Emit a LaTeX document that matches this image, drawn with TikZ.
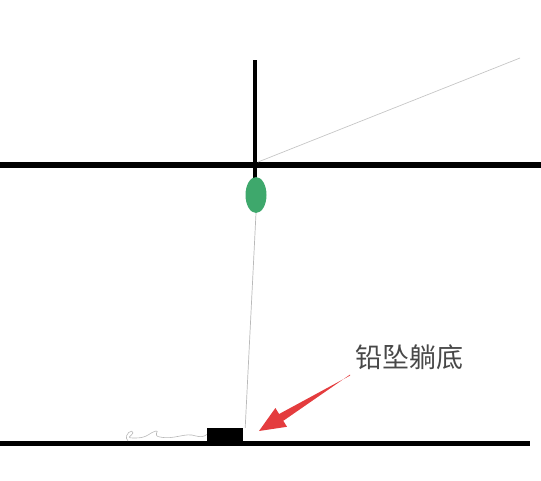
\documentclass[tikz,border=0pt]{standalone}
\usepackage{fontspec}
\newfontfamily\cjk{Noto Sans CJK SC}
\usetikzlibrary{calc,positioning,shapes.geometric}
\definecolor{floatgreen}{RGB}{62,168,108}
\definecolor{arrowred}{RGB}{228,60,62}
\definecolor{labelgray}{RGB}{72,72,72}

\begin{document}
\begin{tikzpicture}[x=1pt, y=-1pt,
        water/.style={line width=6.5pt},
        bed/.style={line width=5pt},
        stem/.style={line width=4.5pt},
        fishline/.style={gray!55, line width=0.7pt},
        bobber/.style={ellipse, fill=floatgreen, minimum width=21pt, minimum height=36pt, inner sep=0pt},
        sinker/.style={rectangle, fill=black, minimum width=36pt, minimum height=13pt, inner sep=0pt},
        note/.style={font=\cjk\fontsize{27}{30}\selectfont, text=labelgray, inner sep=0pt}]

        \useasboundingbox (0,0) rectangle (541,480);

        % water surface and bottom
        \draw[water] (0,165) -- (541,165);
        \draw[bed] (0,443) -- (530,443);

        % rod line and float
        \coordinate (rodtip) at (520,58);
        \coordinate (stemtop) at (255,60);
        \coordinate (stembase) at (255,180);
        \draw[fishline, gray!45] (258,162) -- (rodtip);
        \draw[stem] (stemtop) -- (stembase);
        \node[bobber] (float) at (256,195) {};

        % sinker lying on the bottom
        \node[sinker] (lead) at (225,434.5) {};
        \draw[fishline] (float.south) -- ([xshift=2pt]lead.north east);

        % slack line on the bottom
        \draw[gray!55, line width=0.6pt] (128,441) .. controls (122,434) and (134,428) .. (133,433)
            .. controls (131,437) and (124,438) .. (136,438)
            .. controls (148,438) and (150,432) .. (156,431)
            .. controls (160,430) and (152,436) .. (160,437)
            .. controls (175,440) and (185,432) .. (196,436)
            .. controls (200,437) and (204,437) .. (lead.west);

        % label and arrow
        \node[note] (text) at (409,357) {铅坠躺底};
        \fill[arrowred] (350,374.6) -- (283.3,420.8) -- (287,426.8) -- (259,431)
            -- (275.4,408) -- (279.1,414) -- (350,375.6) -- cycle;

    \end{tikzpicture}
\end{document}
